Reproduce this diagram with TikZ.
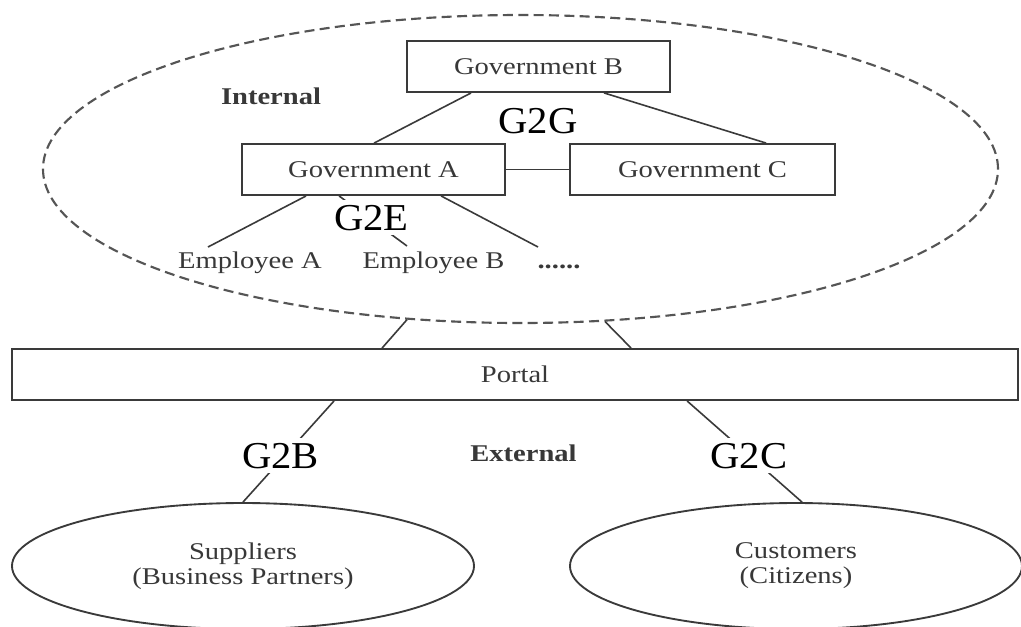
\documentclass[tikz,border=0pt]{standalone}
\usepackage{fontspec}
\setmainfont{Liberation Serif}
\newfontfamily\bodyfont{Liberation Serif}[FakeStretch=1.19]
\newfontfamily\tagfont{Liberation Serif}[FakeStretch=1.07]
\usetikzlibrary{shapes.geometric,calc}
\newlength\px
\setlength\px{0.75pt}
\definecolor{txt}{HTML}{383838}
\definecolor{edge}{HTML}{3A3A3A}
\definecolor{dashc}{HTML}{555555}
\begin{document}
\begin{tikzpicture}[x=0.75pt,y=-0.75pt,
  bodytext/.style={font=\bodyfont\fontsize{18}{18.75}\selectfont, text=txt},
  bx/.style={bodytext, draw=edge, line width=1.4pt, rectangle, inner sep=0pt,
    minimum width=263\px, minimum height=51\px},
  plain/.style={bodytext, inner sep=0pt, anchor=base},
  heading/.style={plain, font=\bodyfont\bfseries\fontsize{18}{18.75}\selectfont},
  tag/.style={font=\tagfont\fontsize{28.5}{30}\selectfont, text=black,
    inner sep=5\px, anchor=base, fill=white},
  group/.style={bodytext, draw=edge, line width=1.4pt, ellipse, inner sep=0pt,
    align=center, minimum width=462\px, minimum height=126\px},
  link/.style={draw=edge, line width=1.2pt}]
\useasboundingbox (0,0) rectangle (1021,626);

% internal region
\node[draw=dashc, line width=1.6pt, dash pattern=on 7.5pt off 4pt, ellipse,
  inner sep=0pt, minimum width=955\px, minimum height=308\px] (int) at (520.5,169) {};
\node[heading] (internal) at (271,104) {Internal};

% government bodies
\node[bx] (gb) at (538.5,66.5) {Government B};
\node[bx] (ga) at (373.5,169.5) {Government A};
\node[bx, minimum width=265\px] (gc) at (702.5,169.5) {Government C};

% employees
\node[plain] (empa) at (250,268) {Employee A};
\node[plain] (empb) at (433.5,268) {Employee B};
\node[plain, font=\bodyfont\bfseries\fontsize{18}{18.75}\selectfont] (dots) at (559,268) {......};

% portal and external parties
\node[bx, minimum width=1006\px] (portal) at (515,374.5) {Portal};
\node[heading] (external) at (523.5,461) {External};
\node[group] (sup) at (243,566) {Suppliers\\(Business Partners)};
\node[group, minimum width=452\px] (cus) at (796,566) {Customers\\(Citizens)};

% G2G links
\draw[link] ($(gb.south west)+(65,0)$) -- ($(ga.north west)+(133,0)$);
\draw[link] ($(gb.south west)+(198,0)$) -- ($(gc.north west)+(197,0)$);
\draw[link] (ga.east) -- (gc.west);

% G2E links
\draw[link] ($(ga.south west)+(65,0)$) -- ($(empa.base)+(-42,-21)$);
\draw[link] ($(ga.south west)+(98,0)$) -- ($(empb.base)+(-26.5,-22)$);
\draw[link] ($(ga.south west)+(200,0)$) -- ($(dots.base)+(-21,-21)$);

% internal region to portal
\draw[link] (int.233) -- ($(portal.north west)+(371,0)$);
\draw[link] (int.299) -- ($(portal.north west)+(620,0)$);

% portal to external parties
\draw[link] ($(portal.south west)+(323,0)$) -- (sup.north);
\draw[link] ($(portal.south west)+(676,0)$) -- ($(cus.north)+(6,0)$);

% relation labels
\node[tag, fill=none] (g2g) at (538,133) {G2G};
\node[tag] (g2e) at (371.5,230) {G2E};
\node[tag] (g2b) at (280.5,468) {G2B};
\node[tag] (g2c) at (749,468) {G2C};
\end{tikzpicture}
\end{document}
